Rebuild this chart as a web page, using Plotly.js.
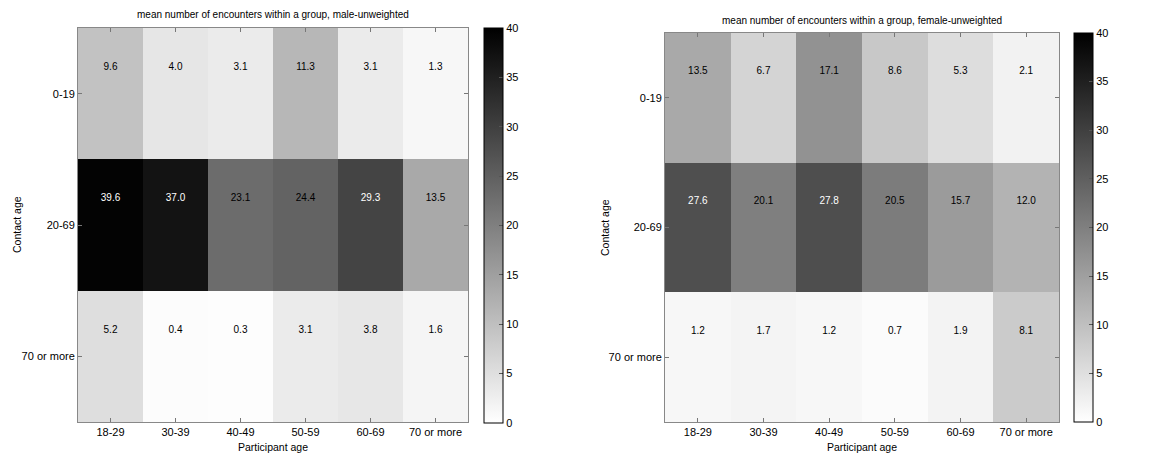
<!DOCTYPE html>
<html>
<head>
<meta charset="utf-8">
<script src="https://cdn.plot.ly/plotly-3.0.1.min.js"></script>
<style>html,body{margin:0;padding:0;background:#fff;}#chart{width:1168px;height:457px;}</style>
</head>
<body>
<div id="chart"></div>
<script>
const participantAges = ["18-29", "30-39", "40-49", "50-59", "60-69", "70 or more"];
const contactAges = ["0-19", "20-69", "70 or more"];
const maleValues = [
  [9.6, 4.0, 3.1, 11.3, 3.1, 1.3],
  [39.6, 37.0, 23.1, 24.4, 29.3, 13.5],
  [5.2, 0.4, 0.3, 3.1, 3.8, 1.6]
];
const femaleValues = [
  [13.5, 6.7, 17.1, 8.6, 5.3, 2.1],
  [27.6, 20.1, 27.8, 20.5, 15.7, 12.0],
  [1.2, 1.7, 1.2, 0.7, 1.9, 8.1]
];
const colorbarTicks = [0, 5, 10, 15, 20, 25, 30, 35, 40];
const titles = ["mean number of encounters within a group, male-unweighted",
                "mean number of encounters within a group, female-unweighted"];

const W = 1168, H = 457;
const FONT = "Liberation Sans, Arial, sans-serif";
const xi = participantAges.map((_, i) => i);
const yi = contactAges.map((_, i) => i);

function heat(z, xa, ya, cbx, cbtop, cblen) {
  return {
    type: "heatmap", z: z, x: xi, y: yi, xaxis: xa, yaxis: ya,
    zmin: 0, zmax: 40,
    colorscale: [[0, "#ffffff"], [1, "#000000"]],
    hoverinfo: "skip",
    colorbar: {
      x: cbx / W, xanchor: "left", xref: "paper",
      y: 1 - cbtop / H, yanchor: "top",
      len: cblen, lenmode: "pixels", thickness: 19, thicknessmode: "pixels",
      outlinecolor: "#000", outlinewidth: 1,
      tickvals: colorbarTicks, ticks: "inside", ticklen: 4, tickcolor: "#555",
      tickfont: {family: FONT, size: 11, color: "#000"},
      xpad: 0, ypad: 0
    }
  };
}
function labels(z, xa, ya) {
  const xs = [], ys = [], ts = [], cs = [];
  z.forEach((row, r) => row.forEach((v, c) => {
    xs.push(c); ys.push(r - 0.2); ts.push(v.toFixed(1)); cs.push(v > 25 ? "#ffffff" : "#000000");
  }));
  return {type: "scatter", mode: "text", x: xs, y: ys, text: ts, xaxis: xa, yaxis: ya,
    textfont: {family: FONT, size: 10, color: cs}, hoverinfo: "skip", showlegend: false};
}

const axX = (dom) => ({
  domain: dom, range: [-0.5, 5.5], tickvals: xi, ticktext: participantAges,
  ticks: "inside", ticklen: 4, tickcolor: "#777", showline: true, linecolor: "#888", linewidth: 1,
  mirror: "ticks", showgrid: false, zeroline: false, fixedrange: true,
  tickfont: {family: FONT, size: 11, color: "#000"}
});
const axY = (dom) => ({
  domain: dom, range: [2.5, -0.5], tickvals: yi, ticktext: contactAges,
  ticks: "inside", ticklen: 4, tickcolor: "#777", showline: true, linecolor: "#888", linewidth: 1,
  mirror: "ticks", showgrid: false, zeroline: false, fixedrange: true,
  tickfont: {family: FONT, size: 11, color: "#000"}
});

const data = [
  heat(maleValues, "x", "y", 484, 28, 395),
  labels(maleValues, "x", "y"),
  heat(femaleValues, "x2", "y2", 1074, 33, 389),
  labels(femaleValues, "x2", "y2")
];

const ann = (text, x, y, rot) => ({
  text: text, x: x / W, y: 1 - y / H, xref: "paper", yref: "paper",
  showarrow: false, textangle: rot || 0, xanchor: "center", yanchor: "middle",
  font: {family: FONT, size: 10.5, color: "#000"}
});

const layout = {
  width: W, height: H, margin: {l: 0, r: 0, t: 0, b: 0},
  paper_bgcolor: "#fff", plot_bgcolor: "#fff", showlegend: false,
  xaxis: Object.assign(axX([78 / W, 468 / W]), {anchor: "y"}),
  yaxis: Object.assign(axY([1 - 422 / H, 1 - 28 / H]), {anchor: "x"}),
  xaxis2: Object.assign(axX([665 / W, 1059 / W]), {anchor: "y2"}),
  yaxis2: Object.assign(axY([1 - 422 / H, 1 - 33 / H]), {anchor: "x2"}),
  annotations: [
    Object.assign(ann(titles[0], 273, 15), {font: {family: FONT, size: 10, color: "#000"}}),
    Object.assign(ann(titles[1], 862, 21), {font: {family: FONT, size: 10, color: "#000"}}),
    ann("Participant age", 273, 447),
    ann("Participant age", 862, 447),
    ann("Contact age", 17, 225, -90),
    ann("Contact age", 605, 228, -90)
  ]
};

Plotly.newPlot("chart", data, layout, {displayModeBar: false, staticPlot: true});
</script>
</body>
</html>
